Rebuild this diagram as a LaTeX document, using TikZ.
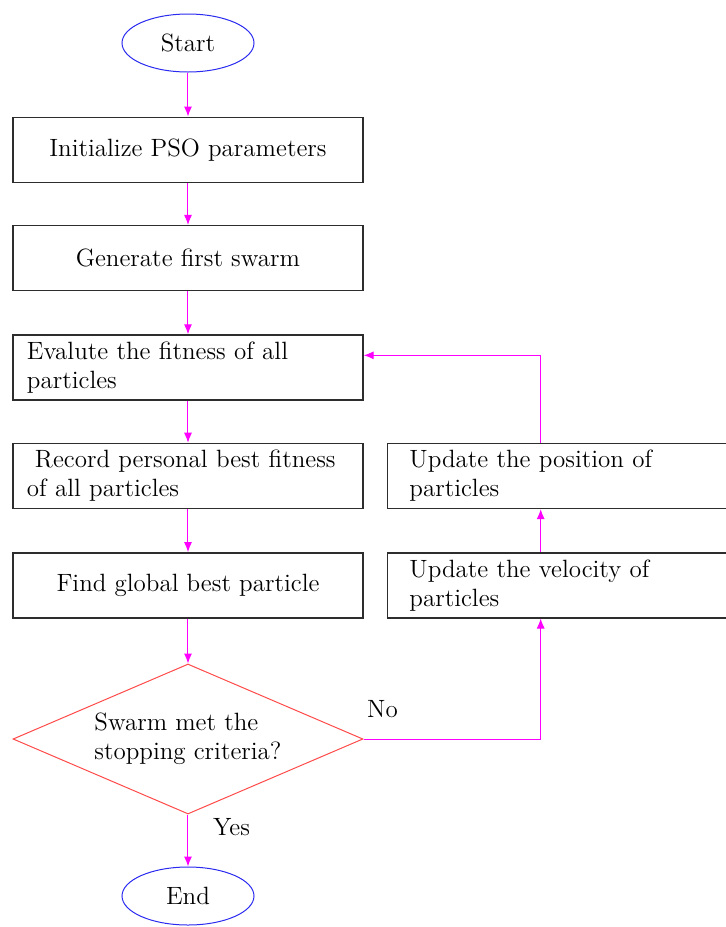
\documentclass[tikz,border=0pt]{standalone}
\usepackage{xcolor}
\usepackage{tikz}
\usetikzlibrary{arrows.meta, positioning, shapes.geometric, calc}
\definecolor{linkmag}{HTML}{FF00FF}
\definecolor{termblue}{HTML}{2A2AF0}
\definecolor{testred}{HTML}{FF4A4A}
\definecolor{boxdark}{HTML}{2D2D2D}
\tikzset{
    termnode/.style={
        ellipse, draw=termblue, line width=0.5pt,
        minimum width=66pt, minimum height=29pt, inner sep=0pt,
        font=\fontsize{12.5}{14.5}\selectfont
    },
    procbox/.style={
        rectangle, draw=boxdark, line width=0.7pt,
        minimum width=175pt, minimum height=32.5pt,
        font=\fontsize{12.5}{14.5}\selectfont, align=center
    },
    procleft/.style={
        procbox, text width=#1, align=left, inner ysep=1pt
    },
    procleft/.default=161pt,
    testnode/.style={
        diamond, draw=testred, line width=0.5pt, shape aspect=2.33,
        minimum width=175pt, minimum height=75pt, inner sep=0pt,
        font=\fontsize{12.5}{14.5}\selectfont, align=left
    },
    flowarrow/.style={
        -{Latex[length=5pt, width=4pt]}, line width=0.5pt, color=linkmag
    },
    branchlab/.style={
        font=\fontsize{12.5}{14.5}\selectfont, text=black
    },
}
\begin{document}
\begin{tikzpicture}[node distance=21.5pt and 11.5pt]

    \useasboundingbox (-94pt,21.5pt) rectangle (269pt,-442pt);

    % Main column
    \node[termnode] (start) at (0,0) {Start};
    \node[procbox, below=22pt of start] (init) {Initialize PSO parameters};
    \node[procbox, below=21pt of init] (gen) {Generate first swarm};
    \node[procleft, inner xsep=7pt, below=of gen] (eval) {Evalute the fitness of all\\particles};
    \node[procleft, inner xsep=7pt, below=21pt of eval] (rec) {\hspace*{4pt}Record personal best fitness\\of all particles};
    \node[procbox, below=of rec] (find) {Find global best particle};
    \node[testnode, below=22.5pt of find] (dec) {Swarm met the\\stopping criteria?};
    \node[termnode, below=26pt of dec] (end) {End};

    % Update column
    \node[procleft=153pt, inner xsep=11pt, right=of rec] (pos) {Update the position of\\particles};
    \node[procleft=153pt, inner xsep=11pt, right=of find] (vel) {Update the velocity of\\particles};

    \coordinate (loopx) at ($(vel.south west)+(77pt,0)$);
    \coordinate (evalin) at ($(eval.north east)+(0,-10.5pt)$);

    % Flow
    \draw[flowarrow] (start) -- (init);
    \draw[flowarrow] (init) -- (gen);
    \draw[flowarrow] (gen) -- (eval);
    \draw[flowarrow] (eval) -- (rec);
    \draw[flowarrow] (rec) -- (find);
    \draw[flowarrow] (find) -- (dec);
    \draw[flowarrow] (dec) -- node[branchlab, near start, right=9pt] {Yes} (end);
    \draw[flowarrow] (dec.east) -- node[branchlab, pos=0.107, above=7pt] {No} (dec.east -| loopx) -- (vel.south -| loopx);
    \draw[flowarrow] (vel.north -| loopx) -- (pos.south -| loopx);
    \draw[flowarrow] (pos.north -| loopx) |- (evalin);

\end{tikzpicture}
\end{document}
